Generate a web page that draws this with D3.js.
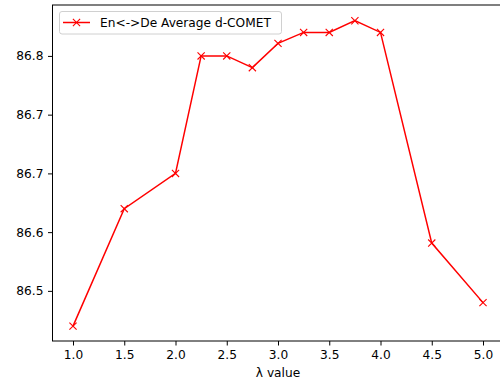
<!DOCTYPE html>
<html>
<head>
<meta charset="utf-8">
<script src="https://cdn.jsdelivr.net/npm/d3@7"></script>
<style>
html,body{margin:0;padding:0;background:#fff;}
svg{display:block;font-family:"DejaVu Sans",sans-serif;}
</style>
</head>
<body>
<svg id="chart" width="500" height="383"></svg>
<script>
// Data
const lambdas = [1.0, 1.5, 2.0, 2.25, 2.5, 2.75, 3.0, 3.25, 3.5, 3.75, 4.0, 4.5, 5.0];
const comet   = [86.455, 86.605, 86.65, 86.8, 86.8, 86.785, 86.816, 86.83, 86.83, 86.845, 86.83, 86.561, 86.485];
const xTicks = [1.0, 1.5, 2.0, 2.5, 3.0, 3.5, 4.0, 4.5, 5.0];
const xTickLabels = ["1.0","1.5","2.0","2.5","3.0","3.5","4.0","4.5","5.0"];
const yTicks = [86.5, 86.575, 86.65, 86.725, 86.8];
const yTickLabels = ["86.5","86.6","86.7","86.7","86.8"];
const seriesName = "En<->De Average d-COMET";
const xLabel = "λ value";

const svg = d3.select("#chart");
const mLeft = 52.5, mRight = 503.5, mTop = 5, mBottom = 341;
const x = d3.scaleLinear().domain([0.8, 5.2]).range([mLeft, mRight]);
const y = d3.scaleLinear().domain([86.436, 86.865]).range([mBottom, mTop]);
const fs = 12.2;

// axes
const xAxis = d3.axisBottom(x).tickValues(xTicks).tickFormat((d,i)=>xTickLabels[i]).tickSize(4.5).tickPadding(4.5);
const gx = svg.append("g").attr("transform",`translate(0,${mBottom})`).call(xAxis);
const yAxis = d3.axisLeft(y).tickValues(yTicks).tickFormat((d,i)=>yTickLabels[i]).tickSize(4.5).tickPadding(4.5);
const gy = svg.append("g").attr("transform",`translate(${mLeft},0)`).call(yAxis);
[gx, gy].forEach(g=>{
  g.select(".domain").remove();
  g.selectAll("text").attr("font-family","DejaVu Sans").attr("font-size",fs).attr("fill","#000");
  g.selectAll("line").attr("stroke","#000").attr("stroke-width",1);
});

// spines
svg.append("rect").attr("x",mLeft).attr("y",mTop).attr("width",mRight-mLeft).attr("height",mBottom-mTop)
  .attr("fill","none").attr("stroke","#000").attr("stroke-width",1);

// line
const line = d3.line().x((d,i)=>x(lambdas[i])).y(d=>y(d));
svg.append("path").datum(comet).attr("d",line).attr("fill","none").attr("stroke","#ff0000").attr("stroke-width",1.5);

const ms = 3.6;
function xMarker(g, cx, cy){
  g.append("path").attr("d",`M${cx-ms},${cy-ms}L${cx+ms},${cy+ms}M${cx-ms},${cy+ms}L${cx+ms},${cy-ms}`)
    .attr("stroke","#ff0000").attr("stroke-width",1.1).attr("fill","none");
}
const mg = svg.append("g");
comet.forEach((v,i)=>xMarker(mg, x(lambdas[i]), y(v)));

// x label
svg.append("text").attr("x",(mLeft+mRight)/2).attr("y",377).attr("text-anchor","middle")
  .attr("font-size",fs).attr("fill","#000").text(xLabel);

// legend
const lg = svg.append("g");
lg.append("rect").attr("x",59.5).attr("y",11.5).attr("width",222).attr("height",22.5).attr("rx",2.5)
  .attr("fill","#fff").attr("fill-opacity",0.8).attr("stroke","#d0d0d0").attr("stroke-width",1);
lg.append("line").attr("x1",63).attr("x2",90).attr("y1",22.5).attr("y2",22.5).attr("stroke","#ff0000").attr("stroke-width",1.5);
xMarker(lg, 76.5, 22.5);
lg.append("text").attr("x",100).attr("y",26.8).attr("font-size",fs).attr("fill","#000").text(seriesName);
</script>
</body>
</html>
